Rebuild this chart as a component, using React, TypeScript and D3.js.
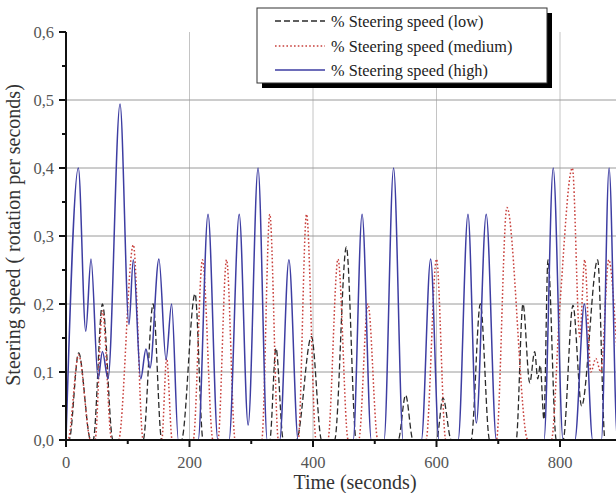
import React from "react";
import * as d3 from "d3";

// ---- data (time in seconds, steering speed in rotation per second) ----
const seriesNames = [
  "% Steering speed (low)",
  "% Steering speed (medium)",
  "% Steering speed (high)",
];

const lowSeries: [number, number][] = [
  [0, 0], [5, 0], [20.5, 0.128], [40, 0], [44, 0], [59, 0.2], [76, 0],
  [125, 0], [141, 0.2], [155, 0], [187, 0], [209, 0.215], [222, 0],
  [330, 0], [340, 0.135], [352, 0], [373, 0], [397.5, 0.152], [414, 0],
  [435, 0], [454, 0.284], [470, 0], [538, 0], [550, 0.066], [562, 0],
  [600, 0], [610.5, 0.062], [624, 0], [656, 0], [671, 0.2], [686, 0],
  [729, 0], [740, 0.2], [751, 0.084], [759, 0.13], [764, 0.09], [768, 0.11],
  [774, 0.03], [780.5, 0.265], [794, 0], [805, 0], [821, 0.198], [835, 0.05],
  [861, 0.265], [873, 0], [1000, 0],
];

const mediumSeries: [number, number][] = [
  [0, 0], [3, 0], [20.5, 0.125], [40, 0], [47, 0], [59, 0.19], [74, 0],
  [85, 0], [109, 0.287], [125, 0], [155, 0], [163, 0.12], [172, 0],
  [206, 0], [221, 0.265], [238, 0], [246, 0], [260, 0.265], [274, 0],
  [317, 0], [330, 0.332], [344, 0], [376, 0], [389.5, 0.332], [405, 0],
  [424, 0], [440.5, 0.266], [457, 0], [474, 0], [489, 0.2], [505, 0],
  [583, 0], [600, 0.266], [615, 0], [697, 0], [714, 0.342], [748, 0],
  [786, 0], [800, 0.2], [820, 0.4], [832, 0.152], [840, 0.265], [850, 0.1],
  [858, 0.12], [866, 0.1], [879, 0.265], [895, 0.1], [905, 0], [1000, 0],
];

const highSeries: [number, number][] = [
  [0, 0], [20, 0.4], [32, 0.16], [40.5, 0.266], [52, 0.09], [59, 0.13],
  [68, 0.09], [87.5, 0.494], [102, 0.17], [109, 0.265], [121, 0.09],
  [129.5, 0.134], [136, 0.106], [150.5, 0.266], [162, 0.118], [171, 0.2],
  [182, 0], [214, 0], [230, 0.332], [246, 0], [264, 0], [280.5, 0.332],
  [295, 0.022], [311, 0.4], [326, 0], [346, 0], [361, 0.265], [376, 0],
  [465, 0], [479.5, 0.332], [494.5, 0], [515, 0], [530.5, 0.4], [546, 0],
  [575.5, 0], [590.5, 0.266], [604, 0], [635, 0], [651, 0.332],
  [664.5, 0.025], [680.5, 0.332], [697, 0], [774, 0], [789, 0.4], [805, 0],
  [824, 0], [839.5, 0.2], [853, 0], [867, 0], [879.5, 0.4], [893, 0],
  [1000, 0],
];

const xTicks = [0, 200, 400, 600, 800];
const xMinorTicks = [100, 300, 500, 700, 900];
const yTicks = [0, 0.1, 0.2, 0.3, 0.4, 0.5, 0.6];
const yMinorTicks = [0.05, 0.15, 0.25, 0.35, 0.45, 0.55];

const W = 616;
const H = 493;
const FONT = "Liberation Serif";

export default function App() {
  const x = d3.scaleLinear().domain([0, 1000]).range([66, 683.5]);
  const y = d3.scaleLinear().domain([0, 0.6]).range([440, 32]);
  const line = d3
    .line<[number, number]>()
    .x((d) => x(d[0]))
    .y((d) => y(d[1]))
    .curve(d3.curveMonotoneX);
  const fmt = (v: number) => d3.format(".1f")(v).replace(".", ",");

  const styles = [
    { data: lowSeries, stroke: "#2a2a2a", dash: "6,3", width: 1.3 },
    { data: mediumSeries, stroke: "#c8403c", dash: "1.6,2.2", width: 1.5 },
    { data: highSeries, stroke: "#3d3da2", dash: "", width: 1.5 },
  ];

  const legendX = 257;
  const legendY = 8;
  const legendW = 290;
  const legendH = 75;
  const rowY = [21, 46, 70];

  return (
    <svg
      width={W}
      height={H}
      style={{ position: "absolute", left: 0, top: 0, background: "#fff" }}
    >
      <defs>
        <clipPath id="plot">
          <rect x={66} y={0} width={W - 66} height={441} />
        </clipPath>
      </defs>
      {/* grid */}
      {xTicks.filter((t) => t > 0).map((t) => (
        <line key={"gx" + t} x1={x(t)} x2={x(t)} y1={y(0.6)} y2={y(0)} stroke="#c4c4c4" strokeWidth={1} />
      ))}
      {yTicks.filter((t) => t > 0 && t < 0.6).map((t) => (
        <line key={"gy" + t} x1={66} x2={W} y1={y(t)} y2={y(t)} stroke="#9a9a9a" strokeWidth={1} />
      ))}
      {/* series */}
      <g clipPath="url(#plot)">
        {styles.map((s, i) => (
          <path
            key={i}
            d={line(s.data) || ""}
            fill="none"
            stroke={s.stroke}
            strokeWidth={s.width}
            strokeDasharray={s.dash}
          />
        ))}
      </g>
      {/* axes */}
      <line x1={66} x2={66} y1={y(0.6)} y2={y(0) + 1} stroke="#111" strokeWidth={2} />
      <line x1={65} x2={W} y1={y(0)} y2={y(0)} stroke="#111" strokeWidth={2} />
      {yTicks.map((t) => (
        <g key={"yt" + t}>
          <line x1={59} x2={66} y1={y(t)} y2={y(t)} stroke="#111" strokeWidth={2} />
          <text x={54} y={y(t)} dy="0.35em" textAnchor="end" fontFamily={FONT} fontSize={16.5} fill="#555">
            {fmt(t)}
          </text>
        </g>
      ))}
      {yMinorTicks.map((t) => (
        <line key={"ym" + t} x1={62} x2={66} y1={y(t)} y2={y(t)} stroke="#111" strokeWidth={2} />
      ))}
      {xTicks.map((t) => (
        <g key={"xt" + t}>
          <line x1={x(t)} x2={x(t)} y1={y(0)} y2={y(0) + 7} stroke="#111" strokeWidth={2} />
          <text x={x(t)} y={468} textAnchor="middle" fontFamily={FONT} fontSize={16.5} fill="#555">
            {t}
          </text>
        </g>
      ))}
      {xMinorTicks.map((t) => (
        <line key={"xm" + t} x1={x(t)} x2={x(t)} y1={y(0)} y2={y(0) + 4} stroke="#111" strokeWidth={2} />
      ))}
      {/* axis titles */}
      <text x={355} y={489} textAnchor="middle" fontFamily={FONT} fontSize={20} fill="#333">
        Time (seconds)
      </text>
      <text
        transform={`translate(20,235) rotate(-90)`}
        textAnchor="middle"
        fontFamily={FONT}
        fontSize={20}
        fill="#333"
      >
        Steering speed ( rotation per seconds)
      </text>
      {/* legend */}
      <rect x={legendX + 5} y={legendY + 5} width={legendW} height={legendH} fill="#000" />
      <rect x={legendX} y={legendY} width={legendW} height={legendH} fill="#fff" stroke="#333" strokeWidth={1} />
      {styles.map((s, i) => (
        <g key={"lg" + i}>
          <line
            x1={275}
            x2={325}
            y1={rowY[i]}
            y2={rowY[i]}
            stroke={s.stroke}
            strokeWidth={s.width}
            strokeDasharray={s.dash}
          />
          <text x={331} y={rowY[i]} dy="0.35em" fontFamily={FONT} fontSize={16.3} fill="#222">
            {seriesNames[i]}
          </text>
        </g>
      ))}
    </svg>
  );
}
